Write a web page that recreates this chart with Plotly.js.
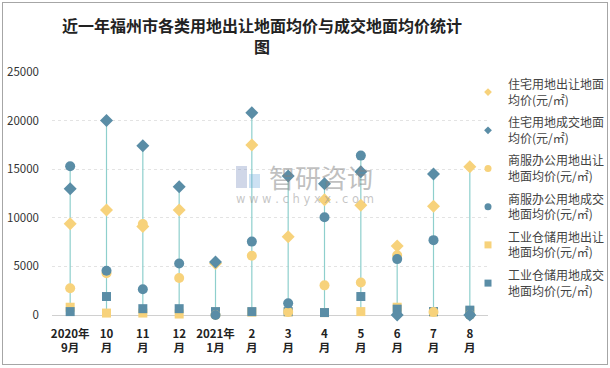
<!DOCTYPE html>
<html>
<head>
<meta charset="utf-8">
<script src="https://cdn.plot.ly/plotly-3.0.1.min.js"></script>
<style>
html,body{margin:0;padding:0;background:#fff;}
#wrap{position:relative;width:610px;height:368px;}
#chart{width:610px;height:368px;}
#frame{position:absolute;left:2px;top:2px;width:604px;height:361px;border:1px solid #a6a6a6;pointer-events:none;}
</style>
</head>
<body>
<div id="wrap"><div id="chart"></div><div id="frame"></div></div>
<script>
const categories = ["2020年<br>9月","10<br>月","11<br>月","12<br>月","2021年<br>1月","2<br>月","3<br>月","4<br>月","5<br>月","6<br>月","7<br>月","8<br>月"];
const seriesNames = [
  "住宅用地出让地面<br>均价(元/㎡)",
  "住宅用地成交地面<br>均价(元/㎡)",
  "商服办公用地出让<br>地面均价(元/㎡)",
  "商服办公用地成交<br>地面均价(元/㎡)",
  "工业仓储用地出让<br>地面均价(元/㎡)",
  "工业仓储用地成交<br>地面均价(元/㎡)"
];
const resTransfer  = [9400, 10800, 9100, 10800, 5300, 17500, 8050, 11850, 11300, 7100, 11200, 15250];
const resDeal      = [13000, 20000, 17400, 13200, 5450, 20800, 14300, 13500, 14750, 0, 14500, 0];
const comTransfer  = [2750, 4300, 9350, 3800, 0, 6100, 300, 3050, 3350, 6150, 300, 0];
const comDeal      = [15300, 4550, 2650, 5300, 0, 7550, 1200, 10050, 16400, 5750, 7700, 0];
const indTransfer  = [800, 200, 200, 100, 300, 300, 300, 250, 350, 800, 300, 400];
const indDeal      = [350, 1900, 650, 650, 350, 350, 350, 250, 1900, 600, 350, 500];

const yellow = "#F7D27B", blue = "#5A8DA6", lineColor = "#8ECFCD";
const allSeries = [resTransfer, resDeal, comTransfer, comDeal, indTransfer, indDeal];

// high-low lines built from data
const lx = [], ly = [];
categories.forEach((c, i) => {
  const vals = allSeries.map(s => s[i]);
  lx.push(c, c, null);
  ly.push(Math.min(...vals), Math.max(...vals), null);
});

const symbols = ["diamond","diamond","circle","circle","square","square"];
const colors = [yellow, blue, yellow, blue, yellow, blue];
const sizes = [10, 10, 10, 10, 9, 9];
const legendSizes = [6, 6, 7, 7, 7, 7];

const traces = [{
  x: lx, y: ly, type: "scatter", mode: "lines",
  line: {color: lineColor, width: 1.2}, showlegend: false, hoverinfo: "skip", cliponaxis: false
}];
const order = [4, 5, 2, 3, 0, 1];
order.forEach(k => {
  traces.push({
    x: categories, y: allSeries[k], name: seriesNames[k], type: "scatter", mode: "markers",
    marker: {symbol: symbols[k], color: colors[k], size: sizes[k]},
    cliponaxis: false, showlegend: false
  });
});
// legend entries (smaller legend symbols)
[0,1,2,3,4,5].forEach(k => {
  traces.push({
    x: [null], y: [null], name: seriesNames[k], type: "scatter", mode: "markers",
    marker: {symbol: symbols[k], color: colors[k], size: legendSizes[k]},
    legendgroup: "g" + k, showlegend: true
  });
});

const layout = {
  width: 610, height: 368,
  margin: {l: 52, r: 122, t: 72, b: 53, autoexpand: false},
  paper_bgcolor: "#fff", plot_bgcolor: "#fff",
  title: {
    text: "近一年福州市各类用地出让地面均价与成交地面均价统计<br>图",
    font: {family: "Noto Sans CJK SC", size: 16, color: "#222", weight: "bold"},
    x: 262/610, xanchor: "center", y: 1 - 32/368, yanchor: "middle"
  },
  font: {family: "Noto Sans CJK SC, Noto Sans, sans-serif", color: "#333"},
  xaxis: {
    type: "category", range: [-0.5, 11.5], showgrid: false, showline: false, zeroline: false,
    ticks: "", tickfont: {size: 11.5, color: "#222", weight: "bold"}, tickangle: 0, automargin: false,
    ticklabelstandoff: 10
  },
  yaxis: {
    range: [0, 25000], dtick: 5000, tickformat: "d", showgrid: true, gridcolor: "#e3e3e3", griddash: "dot",
    zeroline: true, zerolinecolor: "#d0d0d0", zerolinewidth: 1, showline: false, ticks: "",
    tickfont: {size: 11.5, color: "#333"}, ticklabelstandoff: 12, automargin: false
  },
  legend: {
    x: 1 - 20/436, xanchor: "left", y: 1 + 2/243, yanchor: "top",
    font: {size: 12, color: "#444"}, tracegroupgap: 4, maxheight: 360,
    bgcolor: "rgba(0,0,0,0)", itemwidth: 30
  },
  annotations: [
    {text: "智研咨询", xref: "paper", yref: "paper", x: (267-52)/436, y: (315-176)/243, xanchor: "left", yanchor: "middle",
     showarrow: false, font: {size: 26, color: "rgba(130,130,130,0.5)", family: "Noto Sans CJK SC"}},
    {text: "w w w . c h y x x . c o m", xref: "paper", yref: "paper", x: (305-52)/436, y: (315-199)/243, xanchor: "center", yanchor: "middle",
     showarrow: false, font: {size: 11.5, color: "rgba(140,140,140,0.5)", family: "DejaVu Sans"}}
  ],
  shapes: [
    {type: "rect", xref: "paper", yref: "paper", x0: (236-52)/436, x1: (247-52)/436, y0: (315-188)/243, y1: (315-166)/243,
     fillcolor: "rgba(120,140,190,0.35)", line: {width: 0}},
    {type: "rect", xref: "paper", yref: "paper", x0: (249-52)/436, x1: (260-52)/436, y0: (315-188)/243, y1: (315-174)/243,
     fillcolor: "rgba(110,170,220,0.35)", line: {width: 0}}
  ],
  showlegend: true
};

Plotly.newPlot("chart", traces, layout, {displayModeBar: false, staticPlot: true});
</script>
</body>
</html>
